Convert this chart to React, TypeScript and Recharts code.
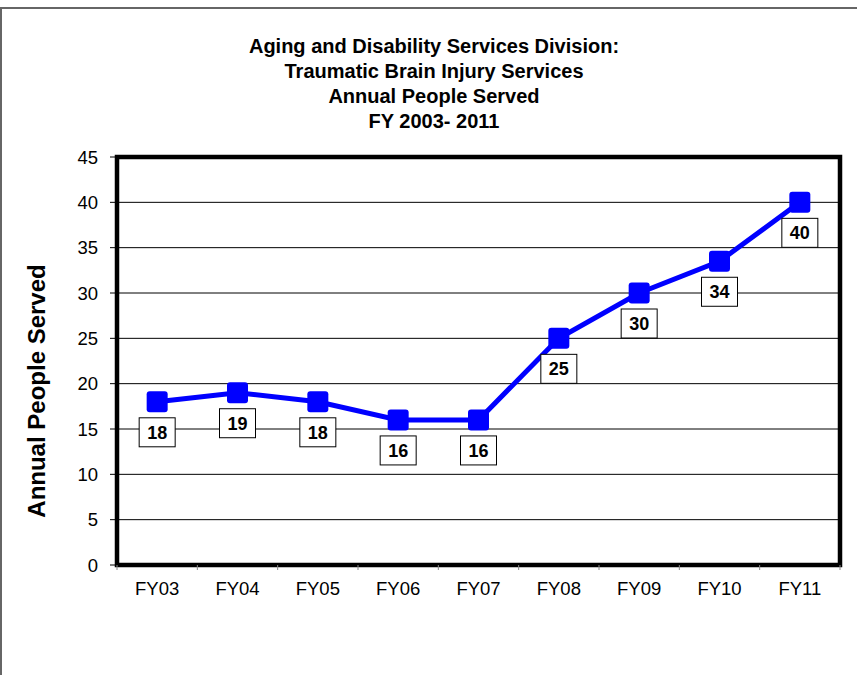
import React from 'react';
import { LineChart, Line, XAxis, YAxis, CartesianGrid, ReferenceArea, LabelList } from 'recharts';

const fiscalYears = ['FY03', 'FY04', 'FY05', 'FY06', 'FY07', 'FY08', 'FY09', 'FY10', 'FY11'];
const peopleServed = [18, 19, 18, 16, 16, 25, 30, 33.5, 40];
const yTicks = [0, 5, 10, 15, 20, 25, 30, 35, 40, 45];
const titleLines = [
  'Aging and Disability Services Division:',
  'Traumatic Brain Injury Services',
  'Annual People Served',
  'FY 2003- 2011',
];

const data = fiscalYears.map((year, i) => ({ year, served: peopleServed[i] }));

const WIDTH = 857;
const HEIGHT = 675;
const MARGIN = { top: 157, right: 17, bottom: 80, left: 57 };
const Y_AXIS_W = 60;
const BAND = (WIDTH - MARGIN.left - Y_AXIS_W - MARGIN.right) / fiscalYears.length;
const FONT = '"Liberation Sans", Arial, sans-serif';
const BLUE = '#0000FF';

// category label with a small gray tick on the band boundary
const YearTick = ({ x, y, payload, index }: any) => (
  <g>
    <line x1={x - BAND / 2} x2={x - BAND / 2} y1={y} y2={y + 5} stroke="#888" />
    {index === fiscalYears.length - 1 && (
      <line x1={x + BAND / 2} x2={x + BAND / 2} y1={y} y2={y + 5} stroke="#888" />
    )}
    <text x={x} y={y + 30} textAnchor="middle" fontFamily={FONT} fontSize={18.5} fill="#000">
      {payload.value}
    </text>
  </g>
);

const SquareDot = (props: any) => {
  const { cx, cy, index } = props;
  return <rect key={`dot-${index}`} x={cx - 10.5} y={cy - 10.5} width={21} height={21} rx={3} fill={BLUE} />;
};

// boxed value label hanging under each point
const BoxLabel = (props: any) => {
  const { x, y, value, index } = props;
  return (
    <g key={`lbl-${index}`}>
      <rect x={x - 18} y={y + 16} width={36} height={29} fill="#fff" stroke="#000" strokeWidth={1} />
      <text x={x} y={y + 37} textAnchor="middle" fontFamily={FONT} fontWeight="bold" fontSize={18} fill="#000">
        {Math.round(value)}
      </text>
    </g>
  );
};

export default function App() {
  return (
    <div style={{ position: 'absolute', left: 0, top: 0, width: WIDTH, height: HEIGHT, background: '#fff', fontFamily: FONT }}>
      <div
        style={{
          position: 'absolute',
          left: 0,
          top: 7,
          width: WIDTH,
          height: HEIGHT - 7,
          borderTop: '2px solid #666',
          borderLeft: '2px solid #666',
          boxSizing: 'border-box',
        }}
      />
      <div
        style={{
          position: 'absolute',
          left: 0,
          top: 34,
          width: 868,
          textAlign: 'center',
          fontWeight: 'bold',
          fontSize: 20,
          lineHeight: '25px',
          color: '#000',
        }}
      >
        {titleLines.map((t) => (
          <div key={t}>{t}</div>
        ))}
      </div>
      <div
        style={{
          position: 'absolute',
          left: 37,
          top: 391,
          transform: 'translate(-50%, -50%) rotate(-90deg)',
          whiteSpace: 'nowrap',
          fontWeight: 'bold',
          fontSize: 24,
          color: '#000',
        }}
      >
        Annual People Served
      </div>
      <div style={{ position: 'absolute', left: 0, top: 0 }}>
        <LineChart width={WIDTH} height={HEIGHT} data={data} margin={MARGIN}>
          <CartesianGrid vertical={false} stroke="#000" strokeWidth={1} />
          <XAxis
            dataKey="year"
            scale="band"
            axisLine={false}
            tickLine={false}
            tickSize={0}
            tickMargin={0}
            interval={0}
            height={30}
            tick={<YearTick />}
          />
          <YAxis
            domain={[0, 45]}
            ticks={yTicks}
            width={Y_AXIS_W}
            axisLine={false}
            tickLine={{ stroke: '#000' }}
            tickSize={7}
            tickMargin={12}
            tick={{ fill: '#000', fontSize: 18.5, fontFamily: FONT }}
          />
          <ReferenceArea y1={0} y2={45} fill="none" fillOpacity={0} stroke="#000" strokeWidth={4.5} />
          <Line
            type="linear"
            dataKey="served"
            stroke={BLUE}
            strokeWidth={5}
            dot={SquareDot}
            activeDot={false}
            isAnimationActive={false}
          >
            <LabelList dataKey="served" content={BoxLabel} />
          </Line>
        </LineChart>
      </div>
    </div>
  );
}
